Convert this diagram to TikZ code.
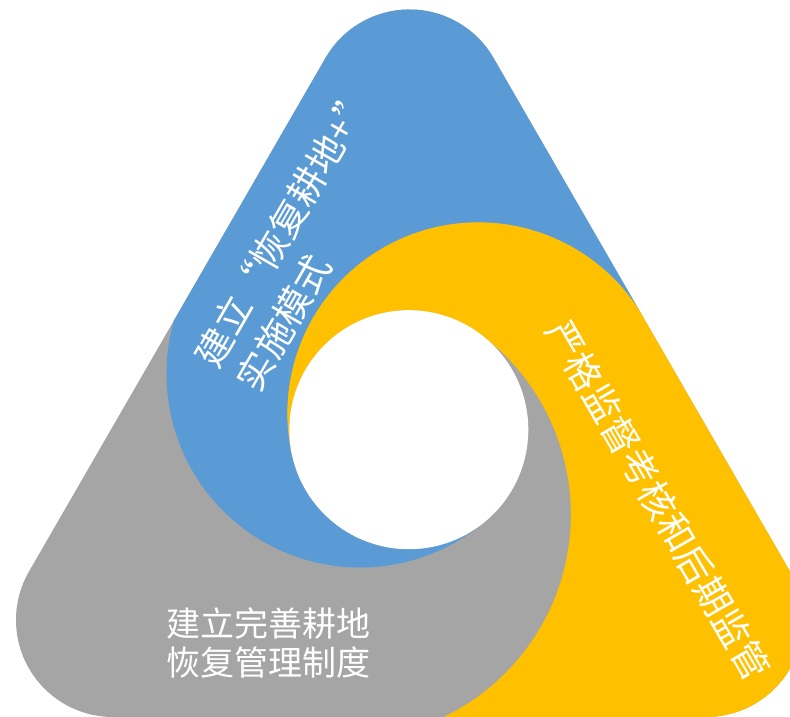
\documentclass[tikz,border=0pt]{standalone}
\usepackage{fontspec}
\newfontfamily\cjk{Noto Sans CJK SC}
\definecolor{ringblue}{HTML}{5B9BD5}
\definecolor{ringyellow}{HTML}{FFC000}
\definecolor{ringgray}{HTML}{A5A5A5}
\newcommand{\tripath}{(325.5,659) arc[start angle=150,end angle=30,radius=97]
  -- (790,145.5) arc[start angle=30,end angle=-90,radius=97]
  -- (113,0) arc[start angle=270,end angle=150,radius=97] -- cycle}
\begin{document}
\begin{tikzpicture}[x=1pt,y=1pt,
  ringtext/.style={text=white,font=\cjk\fontsize{37}{48}\selectfont},
  basetext/.style={text=white,font=\cjk\fontsize{34}{39}\selectfont,align=center}]
\useasboundingbox (0,0) rectangle (790,717);
\clip (0,0) rectangle (790,717);
\fill[ringgray] \tripath;
\begin{scope}
\clip \tripath;
\fill[ringblue] (-67.4,589.75) -- (192.43,439.75)
  arc[start angle=150,end angle=311.2,radius=193.5]
  arc[start angle=311.2,end angle=193.2,radius=119.5]
  arc[start angle=193.2,end angle=30,radius=191]
  -- (903.6,549.1) -- (903.6,1000) -- (-67.4,1000) -- cycle;
\fill[ringyellow] (643.81,399.1)
  arc[start angle=30,end angle=193.2,radius=191]
  arc[start angle=193.2,end angle=53.4,radius=119.5]
  arc[start angle=53.4,end angle=-90,radius=225]
  -- (346,-150) -- (1000,-150) -- (903.6,549.1) -- cycle;
\end{scope}
\fill[white] (408.8,287.3) circle[radius=119.5];

\node (plan) at (304.9,479.1) [ringtext,rotate=60,align=left] {建立“恢复耕地+”\\实施模式};
\node (check) at (658.3,217) [ringtext,rotate=-60] {严格监督考核和后期监管};
\node (rules) at (268,74.5) [basetext] {建立完善耕地\\恢复管理制度};
\end{tikzpicture}
\end{document}
